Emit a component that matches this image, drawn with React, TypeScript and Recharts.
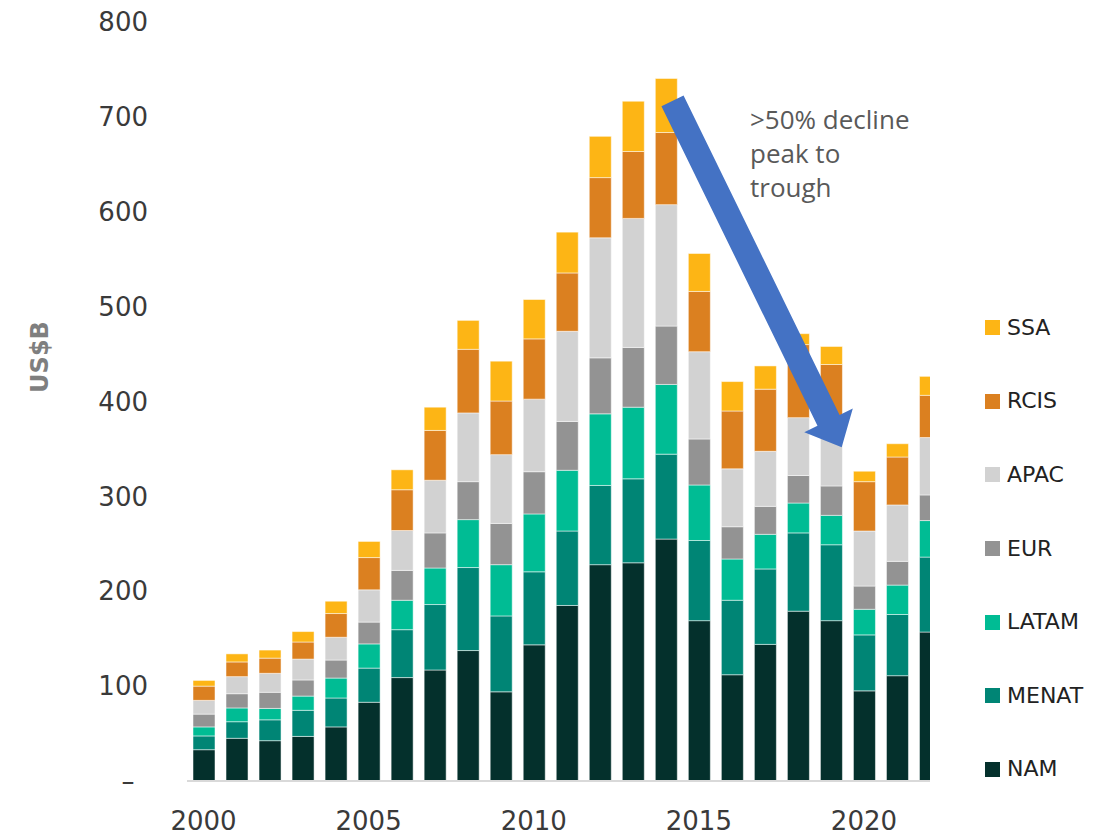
import { BarChart, Bar, XAxis, YAxis } from "recharts";

// regional values, US$B
const years = [
  2000, 2001, 2002, 2003, 2004, 2005, 2006, 2007, 2008, 2009, 2010, 2011,
  2012, 2013, 2014, 2015, 2016, 2017, 2018, 2019, 2020, 2021, 2022,
];
const nam = [33, 45, 42.5, 47, 57, 83, 109, 117, 137.5, 94, 143.5, 185, 228, 230, 255, 169, 112, 144, 179, 169, 95, 111, 157];
const menat = [14.5, 17.5, 22, 27.5, 30.5, 36, 50.5, 69, 87.5, 80, 77, 78.5, 83.5, 88.5, 89.5, 84.5, 78.5, 79.5, 82.5, 80, 59, 64.5, 79];
const latam = [9.5, 14.5, 12, 15, 21, 25.5, 31, 38.5, 50.5, 54, 61, 64, 75.5, 75.5, 73.5, 58.5, 43.5, 36.5, 31.5, 31, 27, 31, 38.5];
const eur = [13.5, 15, 17, 17, 19, 23, 31.5, 37, 40, 43.5, 44.5, 51.5, 59, 63, 61.5, 48.5, 34, 29.5, 29, 31, 24.5, 25, 27];
const apac = [14.5, 18, 20, 22, 24, 34, 42, 55.5, 72.5, 72.5, 76.5, 95, 126.5, 136, 128, 92, 61, 58, 61, 64, 58, 59.5, 60.5];
const rcis = [15, 15.5, 16, 18, 25, 34, 43, 52.5, 67, 56.5, 63.5, 61.5, 63.5, 70.5, 76, 63.5, 61, 65.5, 77, 64, 52, 50.5, 44.5];
const ssa = [6, 8.5, 8.5, 11, 13, 17, 21, 24.5, 30.5, 42, 41.5, 43, 43.5, 53, 57, 40, 31, 24.5, 11.5, 19, 11, 14, 20];

const yTicks = [0, 100, 200, 300, 400, 500, 600, 700, 800];
const xTicks = [2000, 2005, 2010, 2015, 2020];

// bottom to top
const series = [
  { key: "NAM", values: nam, color: "#04302C" },
  { key: "MENAT", values: menat, color: "#008575" },
  { key: "LATAM", values: latam, color: "#00BC94" },
  { key: "EUR", values: eur, color: "#939393" },
  { key: "APAC", values: apac, color: "#D2D2D2" },
  { key: "RCIS", values: rcis, color: "#DB8020" },
  { key: "SSA", values: ssa, color: "#FDB515" },
];

const data = years.map((year, i) => {
  const row: Record<string, number> = { year };
  series.forEach((s) => (row[s.key] = s.values[i]));
  return row;
});

const TICK_FONT = "'DejaVu Sans', sans-serif";

function YTick(props: any) {
  const { x, y, payload } = props;
  const zero = payload.value === 0;
  return (
    <text
      x={zero ? x - 20 : x}
      y={y}
      dy="0.355em"
      textAnchor={zero ? "middle" : "end"}
      fill="#3a3a3a"
      fontSize={26}
      fontFamily={TICK_FONT}
    >
      {zero ? "–" : payload.value}
    </text>
  );
}

// arrow geometry (annotation, not data)
function arrowPoints() {
  const tail = [672.5, 100.8];
  const tip = [841.7, 447.3];
  const dx = tip[0] - tail[0];
  const dy = tip[1] - tail[1];
  const len = Math.hypot(dx, dy);
  const u = [dx / len, dy / len];
  const n = [u[1], -u[0]];
  const sw = 12.3;
  const hw = 27;
  const hl = 30;
  const b = [tip[0] - u[0] * hl, tip[1] - u[1] * hl];
  const pts = [
    [tail[0] + n[0] * sw, tail[1] + n[1] * sw],
    [b[0] + n[0] * sw, b[1] + n[1] * sw],
    [b[0] + n[0] * hw, b[1] + n[1] * hw],
    tip,
    [b[0] - n[0] * hw, b[1] - n[1] * hw],
    [b[0] - n[0] * sw, b[1] - n[1] * sw],
    [tail[0] - n[0] * sw, tail[1] - n[1] * sw],
  ];
  return pts.map((p) => p.join(",")).join(" ");
}

export default function App() {
  const legendItems = [...series].reverse();
  return (
    <div
      style={{
        position: "absolute",
        left: 0,
        top: 0,
        width: 1109,
        height: 838,
        background: "#fff",
        overflow: "hidden",
      }}
    >
      <BarChart
        width={1109}
        height={838}
        data={data}
        margin={{ top: 22, right: 179, left: 0, bottom: 0 }}
      >
        <XAxis
          dataKey="year"
          type="number"
          domain={[1999.5, 2022]}
          allowDataOverflow
          ticks={xTicks}
          interval={0}
          height={57}
          tickSize={0}
          tickMargin={31}
          axisLine={{ stroke: "#d9d9d9", strokeWidth: 2 }}
          tick={{ fill: "#3a3a3a", fontSize: 26, fontFamily: TICK_FONT }}
        />
        <YAxis
          type="number"
          domain={[0, 800]}
          ticks={yTicks}
          interval={0}
          width={187}
          axisLine={false}
          tickLine={false}
          tickSize={0}
          tickMargin={39}
          tick={<YTick />}
        />
        {series.map((s) => (
          <Bar
            key={s.key}
            dataKey={s.key}
            stackId="a"
            fill={s.color}
            stroke="#ffffff"
            strokeWidth={0.5}
            barSize={22}
            isAnimationActive={false}
          />
        ))}
      </BarChart>

      <div
        style={{
          position: "absolute",
          left: 40,
          top: 357,
          transform: "translate(-50%, -50%) rotate(-90deg)",
          fontFamily: TICK_FONT,
          fontWeight: "bold",
          fontSize: 24,
          color: "#7f7f7f",
          whiteSpace: "nowrap",
        }}
      >
        US$B
      </div>

      <svg
        width={1109}
        height={838}
        style={{ position: "absolute", left: 0, top: 0, pointerEvents: "none" }}
      >
        <polygon points={arrowPoints()} fill="#4472C4" />
        <text
          x={750}
          fill="#595959"
          fontSize={26}
          fontFamily="'Open Sans', sans-serif"
        >
          <tspan x={750} y={128.5}>&gt;50% decline</tspan>
          <tspan x={750} y={163}>peak to</tspan>
          <tspan x={750} y={197}>trough</tspan>
        </text>
      </svg>

      <div style={{ position: "absolute", left: 985, top: 0 }}>
        {legendItems.map((s, i) => (
          <div
            key={s.key}
            style={{
              position: "absolute",
              top: 327.7 + i * 73.6,
              left: 0,
              transform: "translateY(-50%)",
              display: "flex",
              alignItems: "center",
              whiteSpace: "nowrap",
            }}
          >
            <span
              style={{
                width: 15,
                height: 15,
                background: s.color,
                display: "inline-block",
                marginRight: 7,
              }}
            />
            <span
              style={{
                fontFamily: TICK_FONT,
                fontSize: 22,
                color: "#222",
                lineHeight: "26px",
              }}
            >
              {s.key}
            </span>
          </div>
        ))}
      </div>
    </div>
  );
}
